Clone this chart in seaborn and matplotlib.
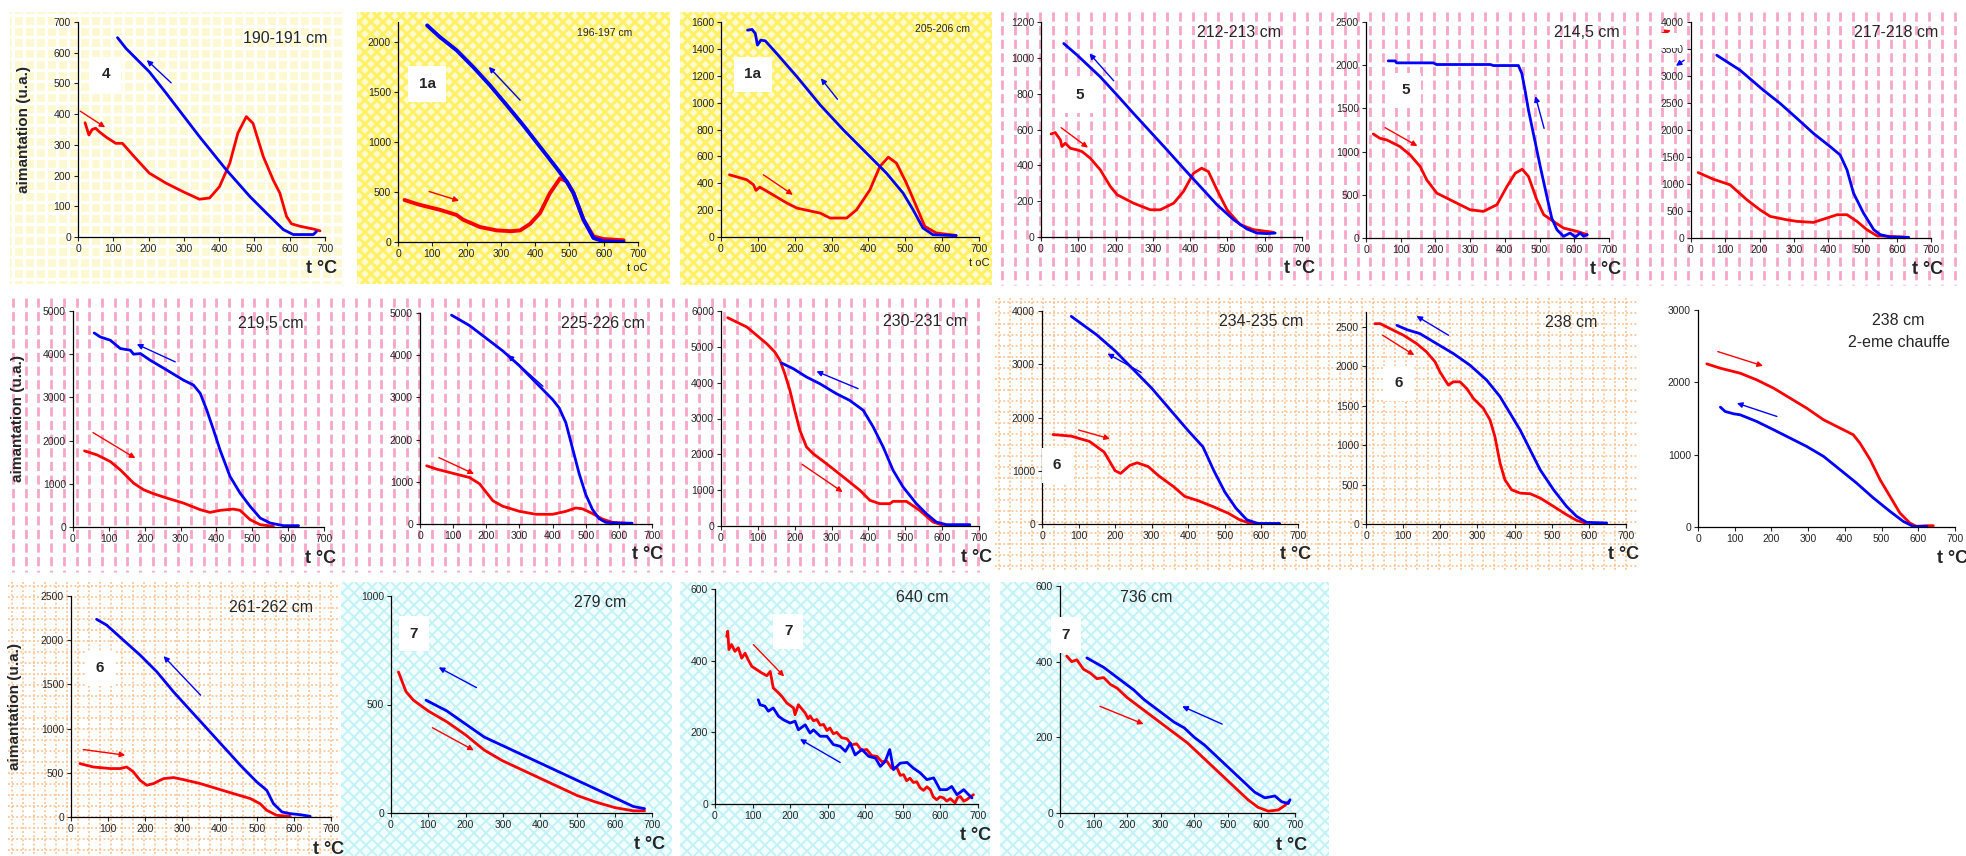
"""Thermomagnetic curves (heating red / cooling blue) for 16 core samples."""

import matplotlib
matplotlib.use("Agg")
import matplotlib.pyplot as plt
from matplotlib.collections import LineCollection
from matplotlib.patches import Rectangle
import numpy as np
import pandas as pd
import seaborn as sns

sns.set_style("ticks")
plt.rcParams["font.family"] = ["Liberation Sans", "DejaVu Sans"]

W, H = 1966, 856
RED, BLUE = "#ff0000", "#0000ff"

# ---- data: temperature (deg C) and magnetisation (u.a.)
heat_t_190 = [20, 31, 40, 50, 60, 80, 107, 126, 155, 202, 250, 297, 344, 373, 401, 430, 453, 477, 496, 525, 553, 572, 591, 605, 629, 667, 686]
heat_m_190 = [372, 332, 350, 354, 343, 325, 305, 305, 267, 208, 175, 148, 123, 127, 164, 240, 338, 392, 370, 262, 186, 143, 67, 43, 35, 26, 20]
cool_t_190 = [112, 136, 202, 250, 344, 420, 487, 534, 582, 610, 667, 676]
cool_m_190 = [649, 614, 538, 468, 327, 219, 132, 78, 24, 8, 8, 18]

heat_t_196 = [19, 60, 122, 171, 190, 239, 288, 330, 356, 385, 414, 443, 473, 492, 512, 541, 570, 599, 658]
heat_m_196 = [420, 375, 322, 270, 223, 150, 116, 108, 116, 180, 289, 488, 638, 605, 488, 223, 56, 30, 17]
cool_t_196 = [85, 122, 171, 219, 268, 317, 365, 414, 463, 492, 512, 541, 570, 599, 658]
cool_m_196 = [2166, 2050, 1917, 1751, 1568, 1369, 1169, 953, 738, 605, 488, 223, 40, 7, 0]

heat_t_205 = [23, 70, 88, 95, 105, 133, 179, 206, 269, 296, 341, 368, 404, 431, 454, 476, 503, 530, 553, 584, 638]
heat_m_205 = [463, 426, 389, 347, 371, 327, 252, 215, 178, 141, 141, 203, 351, 525, 594, 550, 401, 228, 79, 30, 12]
cool_t_205 = [72, 84, 93, 99, 108, 120, 151, 206, 269, 332, 404, 449, 494, 521, 548, 575, 638]
cool_m_205 = [1539, 1545, 1515, 1428, 1465, 1460, 1366, 1193, 983, 797, 599, 475, 327, 203, 67, 17, 10]

heat_t_212 = [27, 38, 52, 56, 65, 79, 97, 110, 132, 159, 186, 204, 248, 293, 320, 356, 382, 409, 431, 449, 472, 499, 534, 570, 624]
heat_m_212 = [575, 583, 542, 505, 523, 495, 486, 477, 440, 375, 282, 236, 189, 152, 152, 189, 254, 356, 384, 365, 263, 152, 69, 41, 26]
cool_t_212 = [61, 97, 159, 204, 248, 293, 338, 382, 427, 472, 517, 552, 579, 606, 628]
cool_m_212 = [1080, 1015, 894, 792, 690, 588, 486, 384, 282, 180, 96, 45, 22, 19, 22]

heat_t_214 = [21, 40, 60, 98, 127, 156, 175, 204, 252, 300, 338, 377, 406, 430, 450, 468, 492, 512, 540, 569, 608, 637]
heat_m_214 = [1204, 1154, 1135, 1058, 962, 827, 673, 519, 423, 327, 308, 385, 596, 750, 796, 712, 442, 269, 192, 115, 77, 38]
cool_t_214 = [64, 84, 88, 194, 203, 358, 367, 439, 449, 458, 468, 482, 502, 521, 535, 550, 569, 588, 603, 617, 627, 637]
cool_m_214 = [2050, 2050, 2027, 2027, 2008, 2008, 1996, 1996, 1904, 1712, 1481, 1212, 827, 481, 231, 96, 19, 58, 12, 58, 19, 38]

heat_t_217 = [21, 65, 114, 163, 201, 231, 279, 309, 357, 396, 426, 455, 484, 513, 542, 620]
heat_m_217 = [1212, 1089, 985, 708, 523, 400, 338, 308, 289, 369, 431, 431, 308, 154, 43, 18]
cool_t_217 = [75, 143, 211, 260, 309, 357, 406, 435, 455, 474, 503, 533, 552, 581, 635]
cool_m_217 = [3385, 3108, 2738, 2492, 2215, 1938, 1692, 1538, 1262, 831, 462, 154, 62, 18, 12]

heat_t_219 = [32, 67, 104, 132, 169, 197, 225, 262, 308, 355, 382, 410, 447, 466, 494, 522, 559]
heat_m_219 = [1762, 1669, 1515, 1323, 1015, 862, 769, 669, 554, 400, 338, 385, 415, 385, 169, 54, 15]
cool_t_219 = [59, 76, 104, 132, 160, 169, 188, 215, 262, 308, 336, 355, 373, 392, 410, 438, 466, 494, 522, 550, 587, 629]
cool_m_219 = [4492, 4400, 4323, 4131, 4092, 4000, 4015, 3862, 3631, 3400, 3285, 3092, 2708, 2246, 1785, 1169, 785, 477, 208, 92, 31, 31]

heat_t_225 = [20, 50, 100, 150, 180, 200, 220, 250, 300, 350, 400, 440, 470, 490, 520, 550, 580, 620]
heat_m_225 = [1380, 1300, 1200, 1100, 950, 750, 550, 420, 300, 230, 230, 300, 380, 360, 250, 120, 40, 20]
cool_t_225 = [95, 150, 200, 250, 300, 350, 400, 420, 440, 460, 480, 500, 520, 540, 560, 600, 640]
cool_m_225 = [4950, 4700, 4400, 4100, 3750, 3350, 2950, 2750, 2400, 1800, 1200, 700, 350, 130, 40, 20, 20]

heat_t_230 = [18, 42, 70, 97, 124, 146, 160, 173, 187, 200, 214, 232, 250, 286, 332, 377, 404, 431, 458, 467, 503, 539, 575, 603, 675]
heat_m_230 = [5814, 5693, 5553, 5321, 5088, 4856, 4623, 4251, 3786, 3228, 2670, 2205, 2019, 1740, 1367, 995, 716, 623, 623, 688, 688, 437, 112, 19, 19]
cool_t_230 = [164, 196, 232, 268, 313, 349, 386, 413, 440, 467, 494, 530, 557, 584, 612, 675]
cool_m_230 = [4549, 4391, 4158, 3972, 3693, 3507, 3228, 2763, 2205, 1553, 1088, 623, 344, 112, 37, 37]

heat_t_234 = [30, 80, 130, 170, 200, 215, 240, 260, 290, 320, 360, 390, 430, 470, 510, 540, 570, 600]
heat_m_234 = [1680, 1650, 1550, 1350, 1000, 950, 1100, 1150, 1080, 900, 700, 520, 430, 320, 200, 80, 10, 0]
cool_t_234 = [80, 150, 200, 250, 300, 350, 400, 440, 470, 500, 530, 560, 590, 650]
cool_m_234 = [3900, 3550, 3250, 2900, 2550, 2150, 1750, 1450, 1000, 600, 300, 80, 10, 10]

heat_t_238 = [24, 38, 56, 101, 136, 163, 186, 199, 213, 222, 235, 253, 271, 289, 316, 334, 347, 361, 374, 392, 415, 442, 469, 505, 540, 567, 590]
heat_m_238 = [2542, 2542, 2500, 2395, 2290, 2184, 2057, 1930, 1825, 1762, 1804, 1804, 1720, 1594, 1467, 1320, 1109, 771, 561, 434, 392, 384, 329, 223, 118, 46, 13]
cool_t_238 = [83, 110, 145, 190, 235, 280, 325, 361, 388, 415, 442, 469, 505, 540, 567, 594, 648]
cool_m_238 = [2521, 2466, 2416, 2289, 2163, 2015, 1825, 1615, 1404, 1193, 940, 687, 434, 223, 97, 21, 13]

heat_t_238b = [24, 61, 115, 160, 206, 251, 296, 342, 387, 423, 441, 469, 496, 523, 550, 577, 595, 623, 641]
heat_m_238b = [2255, 2195, 2126, 2034, 1919, 1781, 1643, 1482, 1367, 1275, 1160, 930, 653, 423, 193, 55, 9, 18, 18]
cool_t_238b = [61, 74, 97, 115, 160, 206, 251, 296, 342, 387, 432, 478, 523, 559, 586, 623]
cool_m_238b = [1657, 1597, 1565, 1551, 1459, 1344, 1229, 1114, 976, 792, 607, 400, 216, 78, 9, 9]

heat_t_261 = [24, 60, 105, 132, 150, 168, 186, 204, 222, 249, 276, 303, 348, 393, 438, 483, 509, 527, 554, 590]
heat_m_261 = [604, 566, 548, 548, 566, 510, 415, 359, 378, 434, 446, 423, 378, 321, 264, 208, 151, 76, 19, 8]
cool_t_261 = [69, 96, 141, 186, 231, 276, 321, 366, 411, 456, 500, 527, 545, 568, 590, 617, 644]
cool_m_261 = [2236, 2171, 2001, 1832, 1643, 1416, 1208, 1001, 793, 585, 397, 302, 151, 57, 38, 26, 8]

heat_t_279 = [20, 40, 60, 100, 150, 200, 250, 300, 350, 400, 450, 500, 550, 600, 650, 680]
heat_m_279 = [650, 560, 520, 470, 420, 360, 290, 240, 200, 160, 120, 80, 50, 25, 10, 10]
cool_t_279 = [94, 150, 200, 250, 300, 350, 400, 450, 500, 550, 600, 650, 680]
cool_m_279 = [520, 470, 410, 350, 310, 270, 230, 190, 150, 110, 70, 30, 20]

heat_t_640 = [31, 34, 37, 44, 53, 62, 71, 80, 89, 98, 111, 124, 138, 147, 155, 169, 178, 191, 209, 213, 222, 240, 248, 253, 262, 271, 280, 289, 298, 306, 315, 324, 337, 351, 364, 377, 390, 404, 417, 431, 444, 457, 470, 484, 493, 502, 510, 519, 528, 537, 546, 555, 564, 573, 581, 590, 599, 608, 617, 626, 639, 646, 653, 662, 670, 680, 688]
heat_m_640 = [468, 482, 431, 445, 426, 436, 407, 421, 401, 384, 375, 366, 358, 370, 324, 310, 300, 282, 268, 249, 277, 254, 238, 246, 232, 236, 220, 222, 205, 212, 196, 200, 185, 182, 165, 168, 150, 152, 135, 133, 118, 120, 100, 102, 80, 82, 65, 72, 60, 62, 45, 38, 48, 40, 20, 12, 20, 17, 8, 15, 3, 18, 21, 8, 12, 20, 26]
cool_t_640 = [115, 120, 133, 142, 155, 169, 182, 200, 213, 222, 240, 253, 262, 280, 298, 315, 333, 347, 360, 373, 391, 409, 427, 440, 453, 465, 475, 493, 511, 528, 546, 564, 582, 599, 617, 630, 644, 662, 675, 684]
cool_m_640 = [291, 277, 273, 259, 268, 245, 235, 226, 231, 207, 221, 198, 207, 189, 189, 166, 161, 147, 170, 137, 152, 133, 128, 105, 119, 152, 96, 114, 116, 100, 87, 68, 73, 40, 40, 49, 26, 40, 26, 17]

heat_t_736 = [20, 35, 50, 70, 90, 110, 130, 150, 170, 200, 230, 260, 290, 320, 350, 380, 410, 440, 470, 500, 530, 560, 590, 620, 650, 670, 680]
heat_m_736 = [415, 400, 405, 380, 370, 355, 358, 340, 330, 305, 285, 265, 245, 225, 205, 185, 160, 135, 110, 85, 60, 35, 15, 5, 8, 20, 30]
cool_t_736 = [80, 100, 130, 160, 190, 220, 250, 280, 310, 340, 370, 400, 430, 460, 490, 520, 550, 580, 610, 640, 660, 680, 685]
cool_m_736 = [410, 400, 385, 365, 345, 325, 300, 280, 260, 240, 225, 200, 180, 155, 130, 105, 80, 55, 40, 45, 30, 25, 35]

depths = ["190-191 cm", "196-197 cm", "205-206 cm", "212-213 cm", "214,5 cm", "217-218 cm",
          "219,5 cm", "225-226 cm", "230-231 cm", "234-235 cm", "238 cm", "238 cm\n2-eme chauffe",
          "261-262 cm", "279 cm", "640 cm", "736 cm"]
groups = ["4", "1a", "1a", "5", "5", None, None, None, None, "6", "6", None, "6", "7", "7", "7"]
y_max = [700, 2200, 1600, 1200, 2500, 4000, 5000, 5000, 6000, 4000, 2690, 3000, 2500, 1000, 600, 600]
y_step = [100, 500, 200, 200, 500, 500, 1000, 1000, 1000, 1000, 500, 1000, 500, 500, 200, 200]
heat = [(heat_t_190, heat_m_190), (heat_t_196, heat_m_196), (heat_t_205, heat_m_205), (heat_t_212, heat_m_212),
        (heat_t_214, heat_m_214), (heat_t_217, heat_m_217), (heat_t_219, heat_m_219), (heat_t_225, heat_m_225),
        (heat_t_230, heat_m_230), (heat_t_234, heat_m_234), (heat_t_238, heat_m_238), (heat_t_238b, heat_m_238b),
        (heat_t_261, heat_m_261), (heat_t_279, heat_m_279), (heat_t_640, heat_m_640), (heat_t_736, heat_m_736)]
cool = [(cool_t_190, cool_m_190), (cool_t_196, cool_m_196), (cool_t_205, cool_m_205), (cool_t_212, cool_m_212),
        (cool_t_214, cool_m_214), (cool_t_217, cool_m_217), (cool_t_219, cool_m_219), (cool_t_225, cool_m_225),
        (cool_t_230, cool_m_230), (cool_t_234, cool_m_234), (cool_t_238, cool_m_238), (cool_t_238b, cool_m_238b),
        (cool_t_261, cool_m_261), (cool_t_279, cool_m_279), (cool_t_640, cool_m_640), (cool_t_736, cool_m_736)]

# ---- layout (pixels): axes box, arrows (data coords), label placements
boxes = [(78, 325, 22, 237), (398, 638, 22, 242), (721, 979, 22, 237), (1041, 1302, 22, 237),
         (1366, 1609, 22, 238), (1691, 1931, 22, 238), (73, 324, 311, 527), (420, 652, 313, 524),
         (721, 979, 311, 526), (1042, 1298, 311, 524), (1366, 1626, 312, 524), (1698, 1955, 310, 527),
         (71, 331, 596, 817), (391, 652, 596, 813), (715, 978, 589, 804), (1060, 1295, 586, 813)]
heat_arrows = [(6, 410, 77, 357), (91, 505, 178, 412), (115, 463, 195, 314), (54, 610, 126, 499),
               (55, 1277, 148, 1065), (-102, 3754, -59, 3846), (56, 2185, 174, 1592), (57, 1573, 163, 1187),
               (220, 1721, 330, 949), (100, 1765, 186, 1600), (45, 2395, 130, 2142), (54, 2425, 177, 2227),
               (33, 763, 146, 699), (111, 393, 222, 289), (102, 445, 184, 356), (119, 282, 249, 235)]
cool_arrows = [(264, 502, 195, 576), (356, 1419, 265, 1751), (316, 1025, 271, 1181), (195, 872, 130, 1024),
               (513, 1269, 488, 1642), (-20, 3292, -44, 3188), (285, 3823, 178, 4231), (371, 3264, 265, 4006),
               (372, 3833, 259, 4316), (271, 2847, 179, 3200), (222, 2395, 136, 2639), (215, 1528, 106, 1712),
               (349, 1378, 249, 1820), (229, 578, 128, 671), (333, 116, 226, 181), (483, 235, 364, 282)]
group_xy = [(80, 530), (85, 1580), (86, 1210), (105, 790), (115, 1710), None, None, None, None,
            (40, 1100), (87, 1783), None, (78, 1681), (61, 826), (195, 482), (18, 470)]
depth_xy = [(1.01, 0.925), (0.975, 0.95), (0.965, 0.967), (0.92, 0.95), (1.045, 0.95), (1.03, 0.95),
            (0.92, 0.944), (0.97, 0.95), (0.953, 0.95), (1.02, 0.95), (0.89, 0.95), (0.78, 0.90),
            (0.93, 0.95), (0.90, 0.97), (0.886, 0.96), (0.48, 0.95)]
small_style = [False, True, True] + [False] * 13
with_ylabel = [0, 6, 12]

backgrounds = [("checker", (10, 342, 12, 284)), ("yellow", (357, 670, 12, 284)), ("yellow", (680, 992, 12, 285)),
               ("pink", (997, 1962, 12, 285)), ("pink", (8, 990, 298, 572)), ("orange", (995, 1637, 298, 570)),
               ("orange", (8, 338, 582, 856)), ("cyan", (341, 672, 582, 856)), ("cyan", (680, 990, 582, 856)),
               ("cyan", (1000, 1329, 582, 856))]

fig = plt.figure(figsize=(W / 100, H / 100), dpi=100)
bg = fig.add_axes([0, 0, 1, 1])
bg.set_xlim(0, W)
bg.set_ylim(H, 0)
bg.axis("off")
bg.set_zorder(-5)


def crosshatch(box, face, line, lw, step):
    x0, x1, y0, y1 = box
    rect = Rectangle((x0, y0), x1 - x0, y1 - y0, fc=face, lw=0)
    bg.add_patch(rect)
    h = y1 - y0
    segs = []
    for c in np.arange(x0 - h, x1 + h, step):
        segs.append([(c, y0), (c + h, y1)])
        segs.append([(c, y1), (c + h, y0)])
    lc = LineCollection(segs, colors=line, linewidths=lw)
    bg.add_collection(lc)
    lc.set_clip_path(rect)


for kind, (x0, x1, y0, y1) in backgrounds:
    if kind == "pink":
        xs = np.arange(x0 + 5, x1, 12.7)
        bg.vlines(xs, y0, y1, colors="#f7a6c9", linewidths=2.0, linestyles=[(0, (3.3, 1.6))])
    elif kind == "orange":
        xs = np.arange(x0 + 4, x1, 11)
        ys = np.arange(y0 + 4, y1, 11)
        bg.vlines(xs, y0, y1, colors="#fcc696", linewidths=1.3, linestyles=[(0, (1, 1.3))])
        bg.hlines(ys, x0, x1, colors="#fcc696", linewidths=1.3, linestyles=[(0, (1, 1.3))])
    elif kind == "yellow":
        crosshatch((x0, x1, y0, y1), "#fffbd0", "#fff066", 2.2, 12)
    elif kind == "cyan":
        crosshatch((x0, x1, y0, y1), "#f2feff", "#c3f2f7", 1.4, 12)
    elif kind == "checker":
        bg.add_patch(Rectangle((x0, y0), x1 - x0, y1 - y0, fc="#fcf9d2", lw=0))
        bg.vlines(np.arange(x0 + 3, x1, 11), y0, y1, colors="white", linewidths=2.2)
        bg.hlines(np.arange(y0 + 3, y1, 11), x0, x1, colors="white", linewidths=2.2)

for i in range(16):
    x0, x1, y0, y1 = boxes[i]
    ax = fig.add_axes([x0 / W, 1 - y1 / H, (x1 - x0) / W, (y1 - y0) / H])
    ax.set_facecolor("none")
    df = pd.concat([
        pd.DataFrame({"t": heat[i][0], "m": heat[i][1], "run": "heat"}),
        pd.DataFrame({"t": cool[i][0], "m": cool[i][1], "run": "cool"}),
    ])
    sns.lineplot(data=df, x="t", y="m", hue="run", hue_order=["heat", "cool"],
                 palette={"heat": RED, "cool": BLUE}, sort=False, estimator=None,
                 linewidth=2.8 if i == 1 else 2.0, legend=False, ax=ax)

    ax.set_xlim(0, 700)
    ax.set_ylim(0, y_max[i])
    ax.set_xticks(range(0, 701, 100))
    ax.set_yticks(range(0, int(y_max[i]) + 1, y_step[i]))
    ax.tick_params(direction="out", length=3, width=0.8, labelsize=7.5, pad=2,
                   bottom=True, left=True)
    for s in ("top", "right"):
        ax.spines[s].set_visible(False)
    for s in ("left", "bottom"):
        ax.spines[s].set_linewidth(0.9)
        ax.spines[s].set_color("black")
    ax.set_xlabel("")
    ax.set_ylabel("")

    for (st, sm, et, em), c in ((heat_arrows[i], RED), (cool_arrows[i], BLUE)):
        ax.annotate("", xy=(et, em), xytext=(st, sm), annotation_clip=False,
                    arrowprops=dict(arrowstyle="-|>", color=c, lw=1.0,
                                    mutation_scale=8, shrinkA=0, shrinkB=0))

    if groups[i]:
        gx, gy = group_xy[i]
        ax.text(gx, gy, groups[i], fontsize=11, fontweight="bold", ha="center", va="center",
                bbox=dict(boxstyle="square,pad=0.7", fc="white", ec="none"), zorder=4)

    dx, dy = depth_xy[i]
    if small_style[i]:
        ax.text(dx, dy, depths[i], transform=ax.transAxes, fontsize=7.5, ha="right", va="center")
        ax.text(1.04, -0.12, "t oC", transform=ax.transAxes, fontsize=8, ha="right", va="center")
    else:
        ax.text(dx, dy, depths[i], transform=ax.transAxes, fontsize=11.5,
                ha="center" if "\n" in depths[i] else "right", va="center", linespacing=1.6)
        ax.text(1.05, -0.145, "t °C", transform=ax.transAxes, fontsize=13,
                fontweight="bold", ha="right", va="center")

    if i in with_ylabel:
        ax.set_ylabel("aimantation (u.a.)", fontsize=11, fontweight="bold")
        ax.yaxis.set_label_coords(-0.19, 0.5)

    if i == 5:
        # white patch half hiding the 3500 tick label, as in the original
        ax.add_patch(Rectangle((-108, 3520), 76, 280, fc="white", ec="none",
                               clip_on=False, zorder=3))

fig.savefig("out.png", dpi=100)
print("Saved out.png")
